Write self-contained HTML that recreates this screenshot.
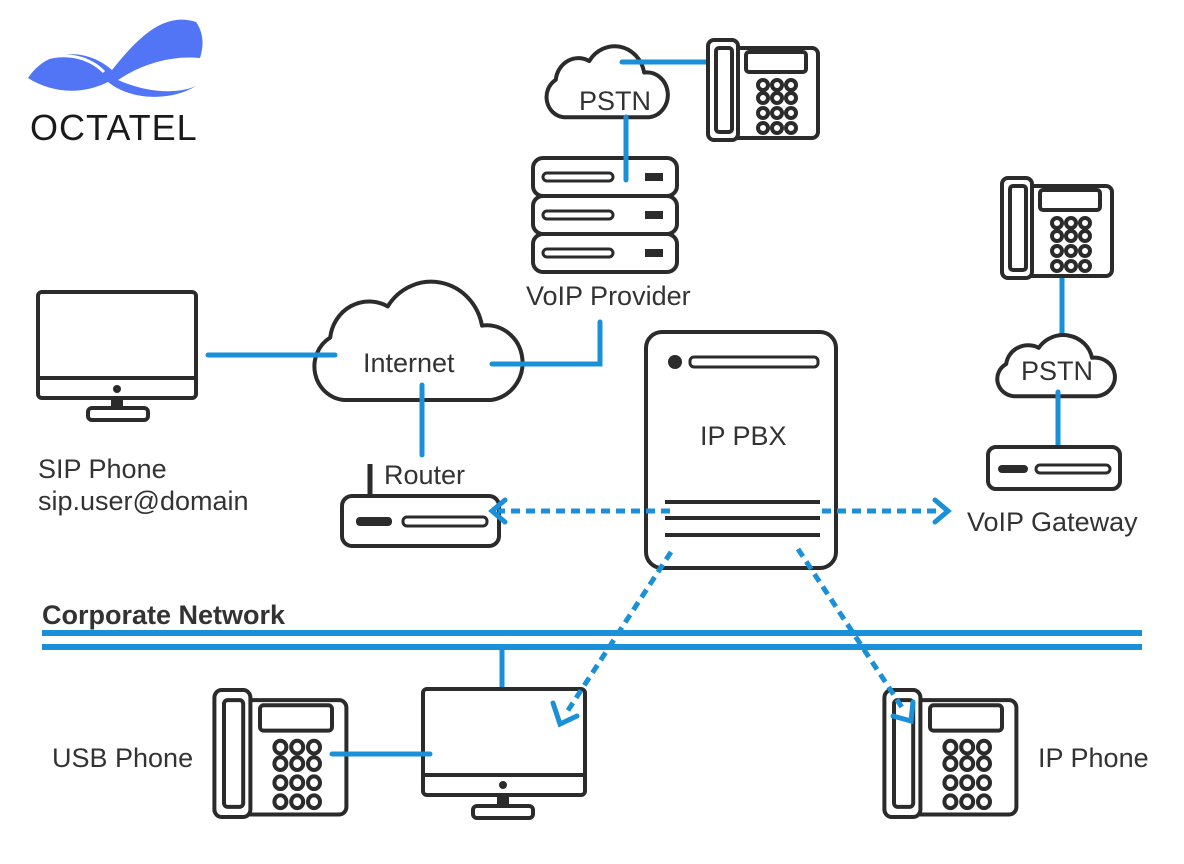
<!DOCTYPE html>
<html><head><meta charset="utf-8"><style>
html,body{margin:0;padding:0;background:#fff;}
svg{display:block;font-family:"Liberation Sans",sans-serif;}
.k{fill:none;stroke:#2b2b2b;stroke-width:4;stroke-linejoin:round;}
.kw{fill:#fff;stroke:#2b2b2b;stroke-width:4;stroke-linejoin:round;}
.b{stroke:#1a90d8;stroke-width:5;fill:none;stroke-linecap:round;}
.d{stroke:#1a90d8;stroke-width:5;fill:none;stroke-dasharray:9 6;}
.t{fill:#333;font-size:27px;}
</style></head><body>
<svg width="1184" height="864" viewBox="0 0 1184 864" xmlns="http://www.w3.org/2000/svg">
<defs>
<g id="phone">
<rect class="kw" x="4" y="8" width="108" height="90" rx="6" vector-effect="non-scaling-stroke"/>
<rect class="kw" x="2" y="0" width="30" height="100" rx="6" vector-effect="non-scaling-stroke"/>
<rect class="k" x="10" y="8" width="16" height="84" rx="3" vector-effect="non-scaling-stroke"/>
<rect class="k" x="40" y="12" width="60" height="20" rx="3" vector-effect="non-scaling-stroke"/>
<g class="k">
<circle cx="57" cy="45" r="5" vector-effect="non-scaling-stroke"/><circle cx="71" cy="45" r="5" vector-effect="non-scaling-stroke"/><circle cx="85" cy="45" r="5" vector-effect="non-scaling-stroke"/>
<circle cx="57" cy="58" r="5" vector-effect="non-scaling-stroke"/><circle cx="71" cy="58" r="5" vector-effect="non-scaling-stroke"/><circle cx="85" cy="58" r="5" vector-effect="non-scaling-stroke"/>
<circle cx="57" cy="73" r="5" vector-effect="non-scaling-stroke"/><circle cx="71" cy="73" r="5" vector-effect="non-scaling-stroke"/><circle cx="85" cy="73" r="5" vector-effect="non-scaling-stroke"/>
<circle cx="57" cy="88" r="5" vector-effect="non-scaling-stroke"/><circle cx="71" cy="88" r="5" vector-effect="non-scaling-stroke"/><circle cx="85" cy="88" r="5" vector-effect="non-scaling-stroke"/>
</g>
</g>
<path id="cloud" class="kw" vector-effect="non-scaling-stroke" d="M40,110 A28,28 0 0 1 28,58 A34,34 0 0 1 78,32 A45,45 0 0 1 160,48 A31,31 0 0 1 168,110 Z"/>
<g id="server">
<rect class="kw" x="0" y="0" width="144" height="38" rx="10"/>
<rect class="k" x="10" y="15" width="70" height="8" rx="4" style="stroke-width:3"/>
<rect x="112" y="15" width="18" height="8" fill="#2b2b2b"/>
</g>
</defs>

<!-- logo -->
<path d="M28,78 C50,45 90,50 112,70 C140,35 165,12 196,22 C205,35 203,48 200,58 C170,55 140,65 118,80 C145,92 175,95 196,86 C170,102 130,100 108,82 C80,96 50,92 28,78 Z" fill="#5275f5"/>
<path d="M30,66 C58,48 88,56 104,72" stroke="#fff" stroke-width="3" fill="none"/>
<text x="30" y="140" font-size="36" fill="#1a1a1a" letter-spacing="1">OCTATEL</text>

<!-- top PSTN -->
<g transform="translate(537,38) scale(0.67,0.72)"><use href="#cloud"/></g>
<text class="t" x="579" y="110">PSTN</text>
<line class="b" x1="622" y1="62" x2="730" y2="62"/>
<use href="#phone" transform="translate(706,40)"/>
<use href="#server" transform="translate(533,158)"/>
<use href="#server" transform="translate(533,196)"/>
<use href="#server" transform="translate(533,234)"/>
<line class="b" x1="626" y1="117" x2="626" y2="180"/>
<text class="t" x="526" y="305">VoIP Provider</text>

<!-- Internet cloud -->
<g transform="translate(298,268) scale(1.15,1.2)"><use href="#cloud"/></g>
<text class="t" x="363" y="372">Internet</text>
<polyline class="b" points="600,322 600,364 492,364"/>
<line class="b" x1="208" y1="355" x2="335" y2="355"/>
<line class="b" x1="422" y1="385" x2="422" y2="455"/>

<!-- SIP monitor -->
<rect class="kw" x="38" y="292" width="158" height="106" rx="4"/>
<line class="k" x1="38" y1="378" x2="196" y2="378"/>
<circle cx="117" cy="389" r="4" fill="#2b2b2b"/>
<rect x="111" y="398" width="12" height="12" fill="#2b2b2b"/>
<rect class="kw" x="88" y="408" width="60" height="12" rx="4"/>
<text class="t" x="38" y="478">SIP Phone</text>
<text class="t" x="38" y="510">sip.user@domain</text>

<!-- Router -->
<line class="k" x1="370" y1="464" x2="370" y2="496" style="stroke-width:5"/>
<text class="t" x="384" y="484">Router</text>
<rect class="kw" x="342" y="496" width="157" height="50" rx="10"/>
<rect x="356" y="517" width="36" height="9" rx="4" fill="#2b2b2b"/>
<rect class="k" x="403" y="517" width="84" height="9" rx="4" style="stroke-width:3"/>

<!-- IP PBX -->
<rect class="kw" x="646" y="332" width="190" height="236" rx="16"/>
<circle cx="675" cy="362" r="7" fill="#2b2b2b"/>
<rect class="k" x="690" y="357" width="128" height="10" rx="4" style="stroke-width:3"/>
<text class="t" x="700" y="445">IP PBX</text>
<line class="k" x1="665" y1="502" x2="820" y2="502"/>
<line class="k" x1="665" y1="518" x2="820" y2="518"/>
<line class="k" x1="665" y1="535" x2="820" y2="535"/>
<line class="d" x1="670" y1="511" x2="498" y2="511"/>
<polyline class="b" points="505,500 492,511 505,522"/>
<line class="d" x1="822" y1="511" x2="940" y2="511"/>
<polyline class="b" points="935,500 948,511 935,522"/>

<!-- right side -->
<line class="b" x1="1062" y1="256" x2="1062" y2="340"/>
<use href="#phone" transform="translate(1000,178)"/>
<g transform="translate(988,328) scale(0.65,0.62)"><use href="#cloud"/></g>
<text class="t" x="1021" y="380">PSTN</text>
<line class="b" x1="1058" y1="392" x2="1058" y2="452"/>
<rect class="kw" x="988" y="447" width="132" height="42" rx="8"/>
<rect x="998" y="465" width="30" height="8" rx="4" fill="#2b2b2b"/>
<rect class="k" x="1036" y="465" width="74" height="8" rx="4" style="stroke-width:3"/>
<text class="t" x="967" y="531">VoIP Gateway</text>

<!-- Corporate network -->
<text x="42" y="624" font-size="27" font-weight="bold" fill="#333">Corporate Network</text>
<line x1="42" y1="633" x2="1142" y2="633" stroke="#1a90d8" stroke-width="6"/>
<line x1="42" y1="647" x2="1142" y2="647" stroke="#1a90d8" stroke-width="6"/>
<line class="b" x1="502" y1="650" x2="502" y2="705"/>

<!-- bottom -->
<use href="#phone" transform="translate(212,690) scale(1.2,1.27)"/>
<text class="t" x="52" y="767">USB Phone</text>
<rect class="kw" x="423" y="689" width="162" height="106" rx="4"/>
<line class="k" x1="423" y1="775" x2="585" y2="775"/>
<circle cx="503" cy="785" r="4" fill="#2b2b2b"/>
<rect x="497" y="795" width="12" height="12" fill="#2b2b2b"/>
<rect class="kw" x="473" y="806" width="60" height="12" rx="4"/>
<line class="b" x1="332" y1="754" x2="430" y2="754"/>
<use href="#phone" transform="translate(882,690) scale(1.2,1.27)"/>
<text class="t" x="1038" y="767">IP Phone</text>

<!-- diagonal dashed arrows on top -->
<line class="d" x1="671" y1="552" x2="565" y2="715"/>
<polyline class="b" points="553,703 560,724 577,716"/>
<line class="d" x1="798" y1="549" x2="905" y2="712"/>
<polyline class="b" points="893,716 911,721 913,702"/>
</svg>
</body></html>
